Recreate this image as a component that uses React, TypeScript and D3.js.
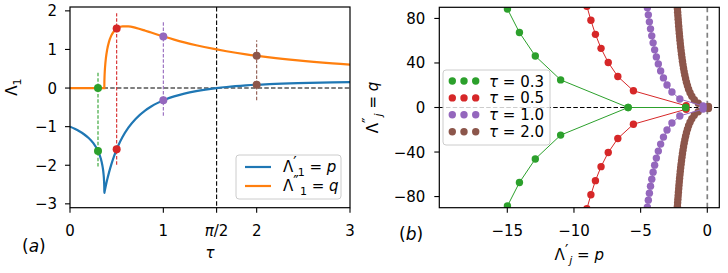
import * as d3 from 'd3';

// panel (a): leading root Λ1 = p + i q of λ + exp(-λτ) = 0 vs τ
const tau = [0, 0.05, 0.1, 0.15, 0.2, 0.25, 0.3, 0.32, 0.34, 0.35, 0.36, 0.365, 0.367, 0.3675, 0.36788,
  0.36833, 0.36972, 0.37205, 0.37533, 0.38491, 0.39881, 0.4176, 0.44209, 0.47331, 0.51278, 0.56252,
  0.62535, 0.70515, 0.80748, 0.8695, 0.94042, 1.02191, 1.11594, 1.22491, 1.35204, 1.5708, 1.67727,
  1.88678, 2.13803, 2.44185, 2.81291, 3.27134];
const lamRe = [-1, -1.0542, -1.1183, -1.1967, -1.2959, -1.4296, -1.6309, -1.7516, -1.9235, -2.047, -2.239,
  -2.411, -2.5408, -2.6005, -2.7183,
  -2.7127, -2.6957, -2.6675, -2.6287, -2.5196, -2.3723, -2.1917, -1.9838, -1.7559, -1.5152, -1.2696,
  -1.0268, -0.794, -0.5778, -0.4777, -0.3838, -0.2965, -0.2164, -0.1437, -0.0787, 0, 0.0279,
  0.0694, 0.1033, 0.1298, 0.1493, 0.1622];
const lamIm = [0, 0, 0, 0, 0, 0, 0, 0, 0, 0, 0, 0, 0, 0, 0,
  0.1357, 0.2705, 0.4032, 0.5329, 0.7794, 1.003, 1.1973, 1.3572, 1.479, 1.5601, 1.5999,
  1.5991, 1.56, 1.4861, 1.4376, 1.3824, 1.3211, 1.2546, 1.1838, 1.1094, 1, 0.9539,
  0.8745, 0.7951, 0.7167, 0.6399, 0.5655];

const markTau = [0.3, 0.5, 1.0, 2.0];
const markRe = [-1.631, -1.588, -0.318, 0.0865];
const markIm = [0, 1.54, 1.337, 0.837];
const markColors = ['#2ca02c', '#d62728', '#9467bd', '#8c564b'];
const markLabels = ['0.3', '0.5', '1.0', '2.0'];

// panel (b): roots in the upper half plane (mirrored for q < 0)
const rootsRe03 = [-1.631, -5.938, -11.0, -12.9, -14.09, -14.99];
const rootsIm03 = [0, 0, 24.8, 46.21, 67.38, 88.45];
const rootsRe05 = [-1.588, -5.54, -6.71, -7.43, -7.97, -8.39, -8.73, -9.03];
const rootsIm05 = [1.54, 15.0, 27.8, 40.48, 53.11, 65.72, 78.32, 90.91];
const rootsRe10 = [-0.318, -2.062, -2.653, -3.02, -3.288, -3.499, -3.673, -3.821, -3.95, -4.064,
  -4.166, -4.259, -4.344, -4.423, -4.495];
const rootsIm10 = [1.337, 7.589, 13.949, 20.273, 26.581, 32.881, 39.177, 45.469, 51.76, 58.05,
  64.338, 70.626, 76.912, 83.199, 89.485];
const rootsRe20 = [0.0865, -0.68, -0.978, -1.161, -1.296, -1.402, -1.489, -1.563, -1.628, -1.685,
  -1.736, -1.782, -1.825, -1.864, -1.9, -1.934, -1.966, -1.996, -2.024, -2.051, -2.076, -2.1,
  -2.123, -2.145, -2.167, -2.187, -2.206, -2.225, -2.243];
const rootsIm20 = [0.837, 3.839, 6.999, 10.153, 13.303, 16.451, 19.597, 22.742, 25.887, 29.03,
  32.174, 35.318, 38.461, 41.604, 44.746, 47.889, 51.031, 54.174, 57.316, 60.458, 63.601, 66.743,
  69.885, 73.027, 76.169, 79.311, 82.453, 85.595, 88.737];

const xTicksA = [0, 1, Math.PI / 2, 2, 3];
const xTickLabelsA = ['0', '1', 'π/2', '2', '3'];
const yTicksA = [-3, -2, -1, 0, 1, 2];
const xTicksB = [-15, -10, -5, 0];
const yTicksB = [-80, -40, 0, 40, 80];

const FONT = 'DejaVu Sans';
const FS = 15;
const minus = (v: number | string) => String(v).replace('-', '\u2212');

const A = { left: 70, right: 350, top: 7, bottom: 207.7 };
const B = { left: 439.3, right: 719.3, top: 7.3, bottom: 207.7 };

const xA = d3.scaleLinear().domain([0, 3]).range([A.left, A.right]);
const yA = d3.scaleLinear().domain([-3.1, 2.1]).range([A.bottom, A.top]);
const xB = d3.scaleLinear().domain([-20.1, 0.9]).range([B.left, B.right]);
const yB = d3.scaleLinear().domain([-90, 90]).range([B.bottom, B.top]);

const curveA = (vals: number[]) =>
  d3.line<number>().x((_, i) => xA(tau[i])).y(d => yA(d)).curve(d3.curveMonotoneX)(vals) || '';

const seriesB = [
  { re: rootsRe03, im: rootsIm03, color: markColors[0] },
  { re: rootsRe05, im: rootsIm05, color: markColors[1] },
  { re: rootsRe10, im: rootsIm10, color: markColors[2] },
  { re: rootsRe20, im: rootsIm20, color: markColors[3] },
];

const Frame = ({ r }: { r: typeof A }) => (
  <rect x={r.left} y={r.top} width={r.right - r.left} height={r.bottom - r.top}
    fill="none" stroke="#000" strokeWidth={1.2} />
);

// Λ with a prime above and a subscript below, then " = v"
const LamLabel = ({ primes, sub, v }: { primes: string; sub: string; v: string }) => (
  <>
    Λ<tspan fontSize={15} dy={-4}>{primes}</tspan>
    <tspan fontSize={11} fontStyle={sub === 'j' ? 'italic' : 'normal'} dx={1} dy={8}>{sub}</tspan>
    <tspan dy={-4}> = </tspan><tspan fontStyle="italic">{v}</tspan>
  </>
);

export default function App() {
  const lineB = d3.line<[number, number]>().x(d => xB(d[0])).y(d => yB(d[1]));
  return (
    <svg width={728} height={273} style={{ position: 'absolute', left: 0, top: 0, background: '#fff' }}>
      <defs>
        <clipPath id="clipA"><rect x={A.left} y={A.top} width={A.right - A.left} height={A.bottom - A.top} /></clipPath>
        <clipPath id="clipB"><rect x={B.left} y={B.top} width={B.right - B.left} height={B.bottom - B.top} /></clipPath>
      </defs>

      {/* ---------- panel (a) ---------- */}
      <g clipPath="url(#clipA)">
        <line x1={A.left} x2={A.right} y1={yA(0)} y2={yA(0)} stroke="#000" strokeWidth={1.1} strokeDasharray="4.5,2.2" />
        <line x1={xA(Math.PI / 2)} x2={xA(Math.PI / 2)} y1={A.top} y2={A.bottom} stroke="#000" strokeWidth={1.1} strokeDasharray="4.5,2.2" />
        <path d={curveA(lamRe)} fill="none" stroke="#1f77b4" strokeWidth={2.2} />
        <path d={curveA(lamIm)} fill="none" stroke="#ff7f0e" strokeWidth={2.2} />
        {markTau.map((t, i) => (
          <line key={'v' + i} x1={xA(t)} x2={xA(t)}
            y1={yA(Math.min(markRe[i], markIm[i]) - 0.4)} y2={yA(Math.max(markRe[i], markIm[i]) + 0.4)}
            stroke={markColors[i]} strokeWidth={1.1} strokeDasharray="3.5,1.8" />
        ))}
        {markTau.map((t, i) => (
          <g key={'m' + i} fill={markColors[i]}>
            <circle cx={xA(t)} cy={yA(markRe[i])} r={4} />
            <circle cx={xA(t)} cy={yA(markIm[i])} r={4} />
          </g>
        ))}
      </g>
      <Frame r={A} />
      <g fontFamily={FONT} fontSize={FS}>
        {xTicksA.map((t, i) => (
          <g key={'xa' + i}>
            <line x1={xA(t)} x2={xA(t)} y1={A.bottom} y2={A.bottom + 5} stroke="#000" strokeWidth={1.1} />
            <text x={xA(t)} y={236} textAnchor="middle">
              {i === 2 ? <><tspan fontStyle="italic">π</tspan>/2</> : xTickLabelsA[i]}
            </text>
          </g>
        ))}
        {yTicksA.map(t => (
          <g key={'ya' + t}>
            <line x1={A.left - 5} x2={A.left} y1={yA(t)} y2={yA(t)} stroke="#000" strokeWidth={1.1} />
            <text x={A.left - 13} y={yA(t) + 5.5} textAnchor="end">{minus(t)}</text>
          </g>
        ))}
        <text x={xA(1.5)} y={258} textAnchor="middle" fontStyle="italic">τ</text>
        <text transform={`translate(17,${87}) rotate(-90)`} textAnchor="middle">
          Λ<tspan fontSize={11} dy={4}>1</tspan>
        </text>
        <text x={22} y={252} fontSize={17}>(<tspan fontStyle="italic">a</tspan>)</text>

        {/* legend (a) */}
        <rect x={236} y={155} width={105} height={44} rx={3} fill="#fff" fillOpacity={0.8} stroke="#ccc" strokeWidth={1} />
        <line x1={245} x2={271} y1={167} y2={167} stroke="#1f77b4" strokeWidth={2.2} />
        <line x1={245} x2={271} y1={186} y2={186} stroke="#ff7f0e" strokeWidth={2.2} />
        <text x={283} y={172}><LamLabel primes="′" sub="1" v="p" /></text>
        <text x={283} y={191}><LamLabel primes="″" sub="1" v="q" /></text>
      </g>

      {/* ---------- panel (b) ---------- */}
      <g clipPath="url(#clipB)">
        <line x1={B.left} x2={B.right} y1={yB(0)} y2={yB(0)} stroke="#000" strokeWidth={1.1} strokeDasharray="4.5,2.2" />
        <line x1={xB(0)} x2={xB(0)} y1={B.top} y2={B.bottom} stroke="#808080" strokeWidth={1.7} strokeDasharray="5,3.5" />
        {[...seriesB].reverse().map((s, si) => {
          const up = s.re.map((p, i) => [p, s.im[i]] as [number, number]);
          const dn = s.re.map((p, i) => [p, -s.im[i]] as [number, number]);
          return (
            <g key={'s' + si}>
              <path d={lineB(up) || ''} fill="none" stroke={s.color} strokeWidth={1} />
              <path d={lineB(dn) || ''} fill="none" stroke={s.color} strokeWidth={1} />
              {up.concat(dn).map((d, i) => (
                <circle key={i} cx={xB(d[0])} cy={yB(d[1])} r={3.7} fill={s.color} />
              ))}
            </g>
          );
        })}
      </g>
      <Frame r={B} />
      <g fontFamily={FONT} fontSize={FS}>
        {xTicksB.map(t => (
          <g key={'xb' + t}>
            <line x1={xB(t)} x2={xB(t)} y1={B.bottom} y2={B.bottom + 5} stroke="#000" strokeWidth={1.1} />
            <text x={xB(t)} y={236} textAnchor="middle">{minus(t)}</text>
          </g>
        ))}
        {yTicksB.map(t => (
          <g key={'yb' + t}>
            <line x1={B.left - 5} x2={B.left} y1={yB(t)} y2={yB(t)} stroke="#000" strokeWidth={1.1} />
            <text x={B.left - 14} y={yB(t) + 5.5} textAnchor="end">{minus(t)}</text>
          </g>
        ))}
        <text x={(B.left + B.right) / 2} y={260} textAnchor="middle">
          <LamLabel primes="′" sub="j" v="p" />
        </text>
        <text transform={`translate(378,${(B.top + B.bottom) / 2}) rotate(-90)`} textAnchor="middle">
          <LamLabel primes="″" sub="j" v="q" />
        </text>
        <text x={399} y={240} fontSize={17}>(<tspan fontStyle="italic">b</tspan>)</text>

        {/* legend (b) */}
        <rect x={443} y={70} width={107} height={75} rx={3} fill="#fff" fillOpacity={0.8} stroke="#ccc" strokeWidth={1} />
        {markLabels.map((lab, i) => {
          const y = 81 + i * 16.9;
          return (
            <g key={'lb' + i}>
              {[452.3, 464, 475.7].map(cx => <circle key={cx} cx={cx} cy={y} r={3.7} fill={markColors[i]} />)}
              <text x={489} y={y + 5.5}><tspan fontStyle="italic">τ</tspan> = {lab}</text>
            </g>
          );
        })}
      </g>
    </svg>
  );
}
